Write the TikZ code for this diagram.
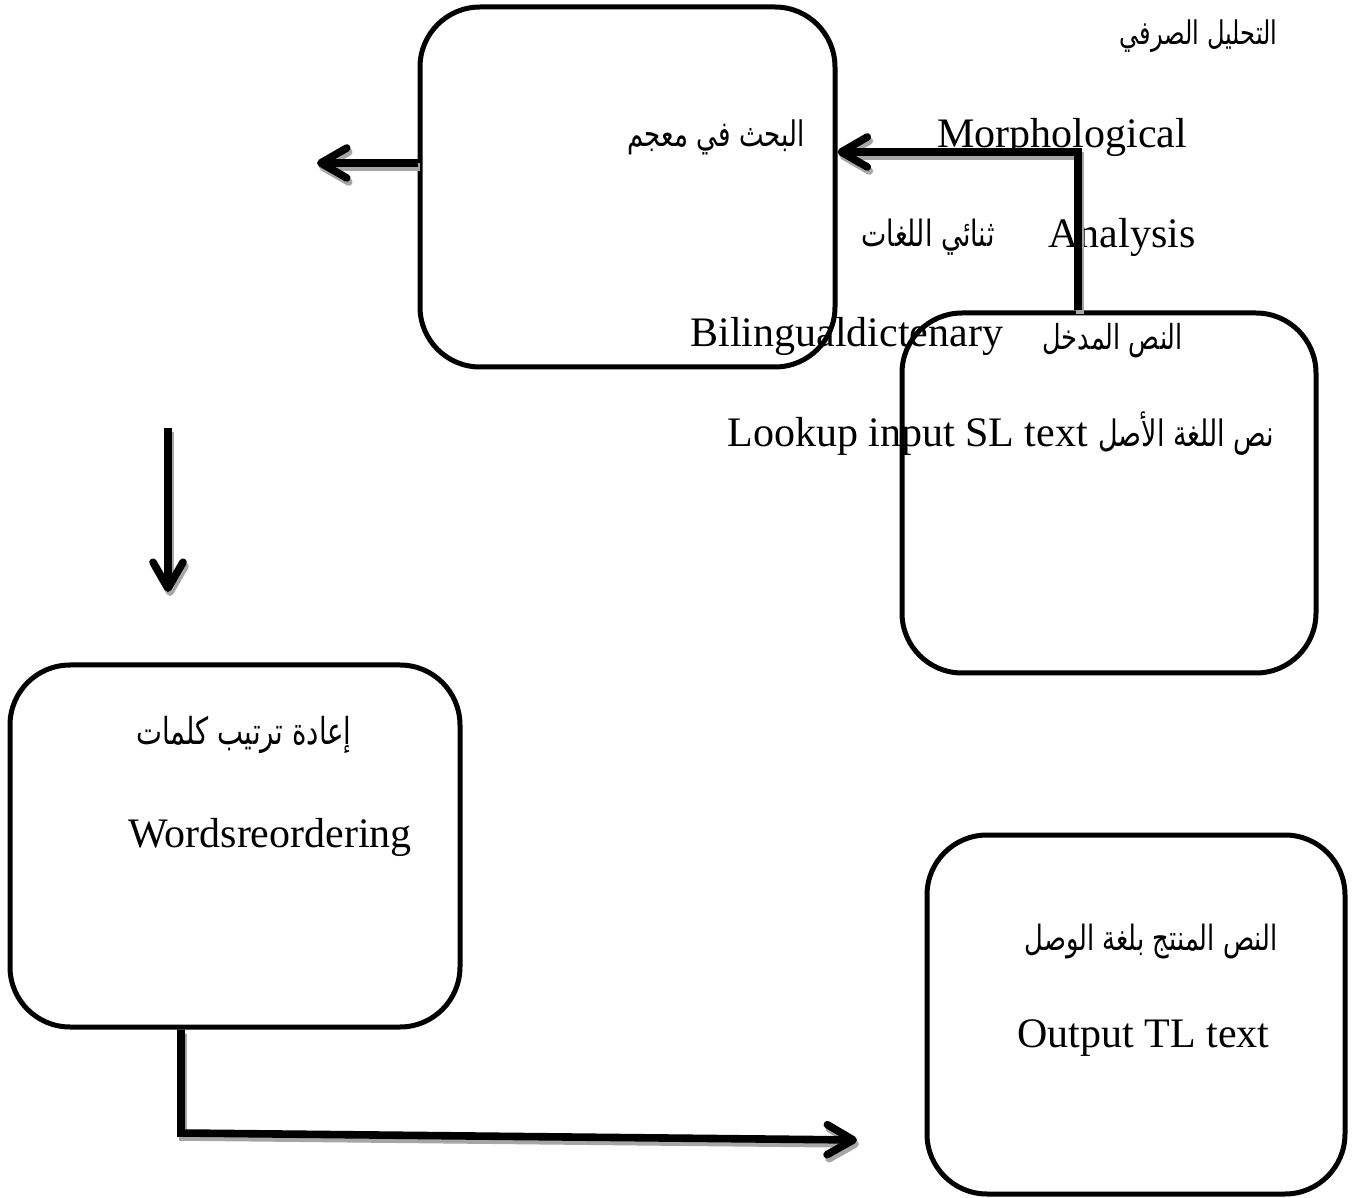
\documentclass[tikz,border=0pt]{standalone}
\usepackage{fontspec}
\usepackage{graphicx}
\setmainfont{Liberation Serif}
\newfontfamily\arabicfont[Script=Arabic]{DejaVu Sans}
\TeXXeTstate=1
\usetikzlibrary{arrows.meta}
\newcommand\artxt[2]{\scalebox{1}[1.35]{\resizebox{#1}{!}{\arabicfont #2}}}
\tikzset{
  stagebox/.style={draw, line width=2.5pt, rounded corners=30pt, inner sep=0pt},
  lbl/.style={inner sep=0pt, font=\fontsize{21}{25}\selectfont},
  arrbase/.style={line width=3.8pt, line join=miter,
    -{Straight Barb[length=13pt, width=15pt, line cap=round, line join=round]}},
  arr/.style={arrbase, draw=black},
  arrshadow/.style={arrbase, draw=black!35}
}
\begin{document}
\begin{tikzpicture}[x=0.5pt, y=-0.5pt]
\useasboundingbox (0,0) rectangle (1357,1198);
% texts
\node[lbl, anchor=base east] (ar1) at (1278,45) {\artxt{79pt}{\beginR التحليل الصرفي\endR}};
\node[lbl, anchor=base west] (morph) at (937,148) {Morphological};
\node[lbl, anchor=base east] (ar2) at (805,147) {\artxt{88.5pt}{\beginR البحث في معجم\endR}};
\node[lbl, anchor=base east] (ar3) at (995,247) {\artxt{66.5pt}{\beginR ثنائي اللغات\endR}};
\node[lbl, anchor=base west] (anal) at (1048,248) {Analysis};
\node[lbl, anchor=base west] (bil) at (690,347) {Bilingualdictenary};
\node[lbl, anchor=base east] (ar4) at (1183,350) {\artxt{70pt}{\beginR النص المدخل\endR}};
\node[lbl, anchor=base west] (look) at (727,447) {Lookup input SL text \artxt{88pt}{\beginR نص اللغة الأصل\endR}};
\node[lbl, anchor=base east] (ar5) at (352,745) {\artxt{107.5pt}{\beginR إعادة ترتيب كلمات\endR}};
\node[lbl, anchor=base west] (words) at (128,847) {Wordsreordering};
\node[lbl, anchor=base east] (ar6) at (1278,950) {\artxt{126.5pt}{\beginR النص المنتج بلغة الوصل\endR}};
\node[lbl, anchor=base west] (outp) at (1017,1047) {Output TL text};
% boxes
\node[stagebox, minimum width=207.5pt, minimum height=180pt] (A) at (627.5,187) {};
\node[stagebox, minimum width=207pt, minimum height=180pt] (B) at (1109,493) {};
\node[stagebox, minimum width=225pt, minimum height=181pt] (C) at (235,846) {};
\node[stagebox, minimum width=209pt, minimum height=179.5pt] (D) at (1136,1014.5) {};
% connector coordinates
\coordinate (t1) at (317,163);
\coordinate (k2) at (1078,152);
\coordinate (d1) at (168,428);
\coordinate (d2) at (168,592);
\coordinate (c1) at (181,1133);
\coordinate (c2) at (857,1140);
% shadows
\begin{scope}[transform canvas={shift={(1pt,-2pt)}}]
\draw[arrshadow] (A.west |- t1) -- (t1);
\draw[arrshadow] (B.north -| k2) -- (k2) -- (A.east |- k2);
\draw[arrshadow] (d1) -- (d2);
\draw[arrshadow] (C.south -| c1) -- (c1) -- (c2);
\end{scope}
% connectors
\draw[arr] (A.west |- t1) -- (t1);
\draw[arr] (B.north -| k2) -- (k2) -- (A.east |- k2);
\draw[arr] (d1) -- (d2);
\draw[arr] (C.south -| c1) -- (c1) -- (c2);
\end{tikzpicture}
\end{document}
